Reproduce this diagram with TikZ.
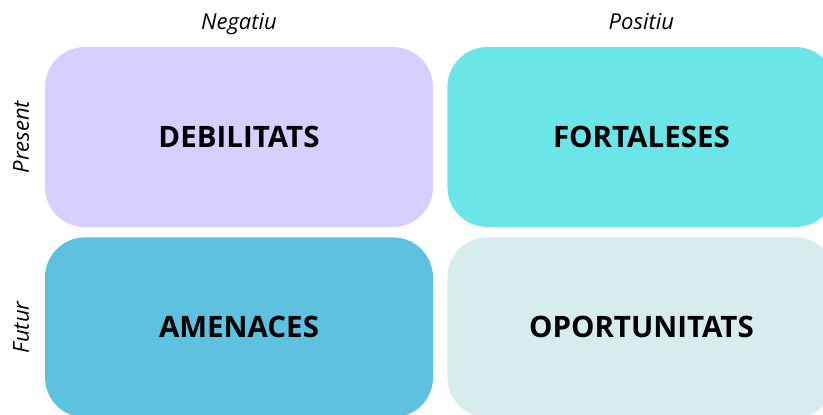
\documentclass[tikz,border=0pt]{standalone}
\usepackage{fontspec}
\setmainfont{Open Sans}
\usepackage{xcolor}
\usepackage{tikz}
\usetikzlibrary{positioning}

\definecolor{lila}{HTML}{D6CFFF}
\definecolor{turquesa}{HTML}{6CE5E8}
\definecolor{blau}{HTML}{5EC1E0}
\definecolor{aigua}{HTML}{D6ECED}

\tikzset{
	quadre/.style={rounded corners=40pt, minimum width=388pt, minimum height=180pt,
		inner sep=0pt, font=\fontsize{29.5}{35}\selectfont\bfseries},
	eix/.style={inner sep=0pt, font=\fontsize{22}{26}\selectfont\itshape}
}

\begin{document}
\begin{tikzpicture}[x=1pt,y=-1pt]
	\useasboundingbox (0,0) rectangle (823,415);
	\clip (0,0) rectangle (823,415);

	\node[quadre, fill=lila] (deb) at (239,137) {DEBILITATS};
	\node[quadre, fill=turquesa, right=14pt of deb] (fort) {FORTALESES};
	\node[quadre, fill=blau, below=10pt of deb] (amen) {AMENACES};
	\node[quadre, fill=aigua, right=14pt of amen] (oport) {OPORTUNITATS};

	\node[eix, above=17pt of deb, anchor=base] (neg) {Negatiu};
	\node[eix, above=17pt of fort, anchor=base] (pos) {Positiu};
	\node[eix, rotate=90, anchor=base] (pres) at ([xshift=-16pt]deb.west) {Present};
	\node[eix, rotate=90, anchor=base] (fut) at ([xshift=-16pt]amen.west) {Futur};
\end{tikzpicture}
\end{document}
